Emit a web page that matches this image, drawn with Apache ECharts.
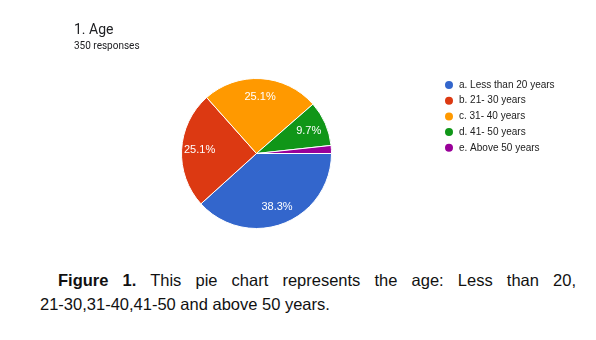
<!DOCTYPE html>
<html><head><meta charset="utf-8">
<script src="https://cdn.jsdelivr.net/npm/echarts@6/dist/echarts.min.js"></script>
<style>
html,body{margin:0;padding:0;background:#fff;}
#wrap{position:relative;width:596px;height:340px;overflow:hidden;}
#chart{position:absolute;left:0;top:0;width:596px;height:250px;}
.cap{position:absolute;font-family:"Liberation Sans",sans-serif;font-size:16.5px;line-height:24px;color:#111;white-space:nowrap;}
#cap1{left:58px;top:268px;width:518px;text-align:justify;text-align-last:justify;white-space:normal;}
#cap2{left:40px;top:292px;}
</style></head>
<body><div id="wrap"><div id="chart"></div>
<div class="cap" id="cap1"><b>Figure 1.</b> This pie chart represents the age: Less than 20,</div>
<div class="cap" id="cap2">21-30,31-40,41-50 and above 50 years.</div></div>
<script>
const categories = ["a. Less than 20 years","b. 21- 30 years","c. 31- 40 years","d. 41- 50 years","e. Above 50 years"];
const counts = [134, 88, 88, 34, 6];
const colors = ["#3366cc","#dc3912","#ff9900","#109618","#990099"];
const total = counts.reduce((a,b)=>a+b,0);
const data = categories.map((n,i)=>({name:n,value:counts[i],itemStyle:{color:colors[i]}}));
const chart = echarts.init(document.getElementById('chart'));
chart.setOption({
  animation:false,
  title:[
    {text:"1. Age",left:74,top:23,padding:0,textStyle:{fontFamily:"Roboto",fontSize:14,fontWeight:"normal",color:"#202124"}},
    {text:"350 responses",left:74,top:41,padding:0,textStyle:{fontFamily:"Roboto",fontSize:10,fontWeight:"normal",color:"#202124"}}
  ],
  legend:{orient:"vertical",left:443,top:79,padding:0,icon:"circle",itemWidth:10,itemHeight:10,itemGap:3.7,
    textStyle:{fontFamily:"Liberation Sans",fontSize:10,color:"#222"},data:categories},
  series:[
    {type:"pie",center:[256.5,153.5],radius:[0,75],startAngle:0,clockwise:true,
     data:data,label:{show:false},labelLine:{show:false},
     itemStyle:{borderColor:"#fff",borderWidth:1},emphasis:{disabled:true}},
    {type:"pie",center:[256.5,153.5],radius:[33,75],startAngle:0,clockwise:true,silent:true,
     legendHoverLink:false,
     data:categories.map((n,i)=>({name:n+" ",value:counts[i],itemStyle:{color:"rgba(0,0,0,0)"},
       label:{show:counts[i]/total>0.05}})),
     itemStyle:{color:"rgba(0,0,0,0)"},
     label:{position:"inside",color:"#fff",fontFamily:"Liberation Sans",fontSize:11,
       formatter:p=>(p.value/total*100).toFixed(1)+"%"},
     labelLine:{show:false}}
  ]
});
</script></body></html>
